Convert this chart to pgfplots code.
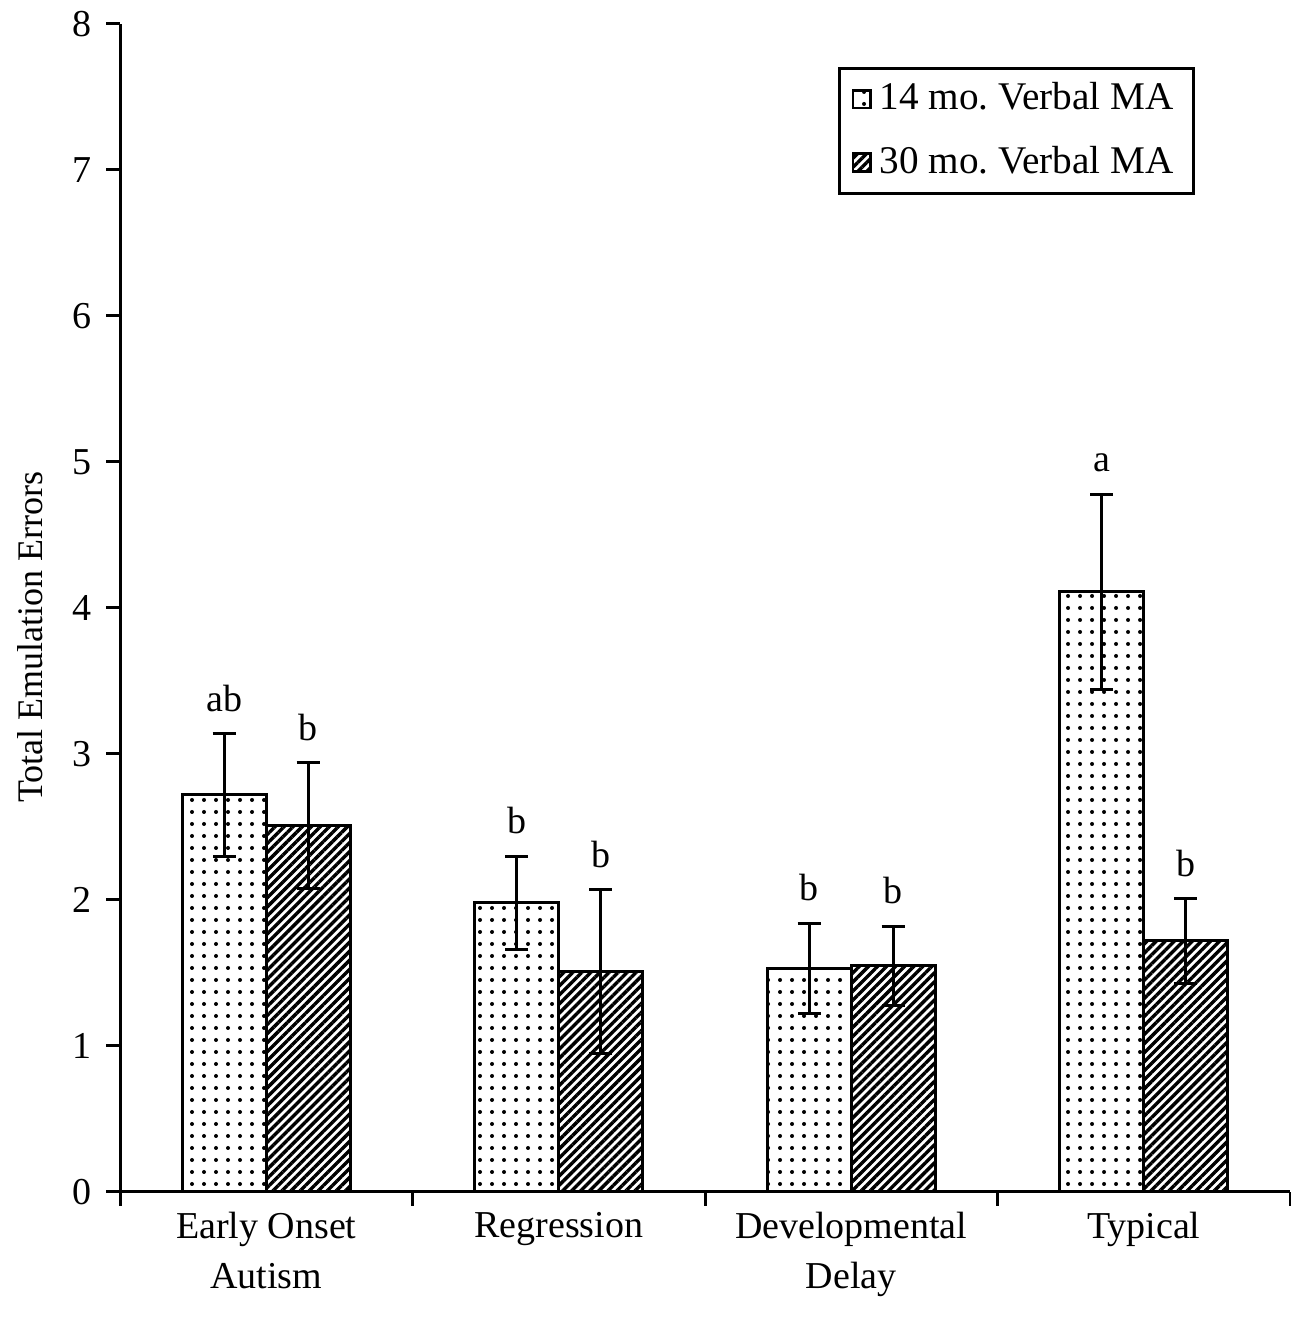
\documentclass[border=0pt]{standalone}
\usepackage{fontspec}
\setmainfont{Liberation Serif}
\usepackage{pgfplots}
\pgfplotsset{compat=1.18}
\usepackage{pgfplotstable}
\usetikzlibrary{patterns,patterns.meta}
\frenchspacing

\pgfplotstableread{
x m14 e14 t14 l14 m30 e30 t30 l30
0 2.72 0.42 3.14 ab 2.51 0.43 2.94 b
1 1.98 0.32 2.30 b  1.51 0.56 2.07 b
2 1.53 0.31 1.84 b  1.55 0.27 1.82 b
3 4.11 0.67 4.78 a  1.72 0.29 2.01 b
}\data

\begin{document}
\begin{tikzpicture}[font=\fontsize{9.5}{12.5}\selectfont]
\begin{axis}[
  name=ax,
  scale only axis,
  width=292.5pt, height=292pt,
  xmin=-0.5, xmax=3.5, ymin=0, ymax=8,
  axis x line*=bottom, axis y line*=left,
  axis line style={line width=0.75pt,-},
  every tick/.style={line width=0.75pt, black},
  tick align=outside,
  major tick length=3.5pt,
  ytick={0,1,...,8},
  yticklabel style={font=\fontsize{9.5}{12.5}\selectfont},
  /pgf/number format/assume math mode=true,
  xtick={-0.5,0.5,1.5,2.5,3.5},
  xticklabels={},
  extra x ticks={0,1,2,3},
  extra x tick labels={{Early Onset\\Autism},{Regression},{Developmental\\Delay},{Typical}},
  extra x tick style={major tick length=0pt, xticklabel style={align=center, anchor=north, yshift=-1.5pt}},
  ylabel={Total Emulation Errors},
  every axis y label/.style={at={(axis description cs:0,0.475)}, rotate=90, anchor=center, yshift=22.5pt, font=\fontsize{9}{11}\selectfont},
  ybar, bar width=21pt,
  legend style={at={(rel axis cs:0.919,0.963)}, anchor=north east, draw=black, line width=0.75pt,
    font=\fontsize{9.8}{12}\selectfont, inner xsep=3pt, inner ysep=1.5pt, row sep=3.5pt,
    /tikz/every even column/.append style={column sep=2.5pt}},
  legend cell align=left,
  legend image code/.code={\draw[#1, line width=0.6pt] (0pt,-2.2pt) rectangle (4.4pt,2.2pt);},
]
\addplot[bar shift=-10.5pt, draw=black, line width=0.75pt, fill=white, postaction={pattern=dots},
  error bars/.cd, y dir=both, y explicit, error mark=-, error bar style={line width=0.75pt, black},
  error mark options={rotate=90, mark size=2.9pt, line width=0.75pt, black}]
  table[x=x, y=m14, y error=e14]{\data};
\addlegendentry{14 mo. Verbal MA}
\addplot[bar shift=10.5pt, draw=black, line width=0.75pt, fill=white, postaction={pattern={Lines[angle=45,distance=1.6pt,line width=0.85pt]}},
  error bars/.cd, y dir=both, y explicit, error mark=-, error bar style={line width=0.75pt, black},
  error mark options={rotate=90, mark size=2.9pt, line width=0.75pt, black}]
  table[x=x, y=m30, y error=e30]{\data};
\addlegendentry{30 mo. Verbal MA}
\addplot[forget plot, bar shift=-10.5pt, draw=none, fill=none, point meta=explicit symbolic,
  nodes near coords, every node near coord/.append style={anchor=south, yshift=2pt, font=\fontsize{9.5}{12.5}\selectfont}]
  table[x=x, y=t14, meta=l14]{\data};
\addplot[forget plot, bar shift=10.5pt, draw=none, fill=none, point meta=explicit symbolic,
  nodes near coords, every node near coord/.append style={anchor=south, yshift=2pt, font=\fontsize{9.5}{12.5}\selectfont}]
  table[x=x, y=t30, meta=l30]{\data};
\end{axis}
\pgfresetboundingbox
\useasboundingbox ([xshift=-30pt,yshift=-34pt]ax.south west) rectangle ([yshift=6pt]ax.north east);
\end{tikzpicture}
\end{document}
